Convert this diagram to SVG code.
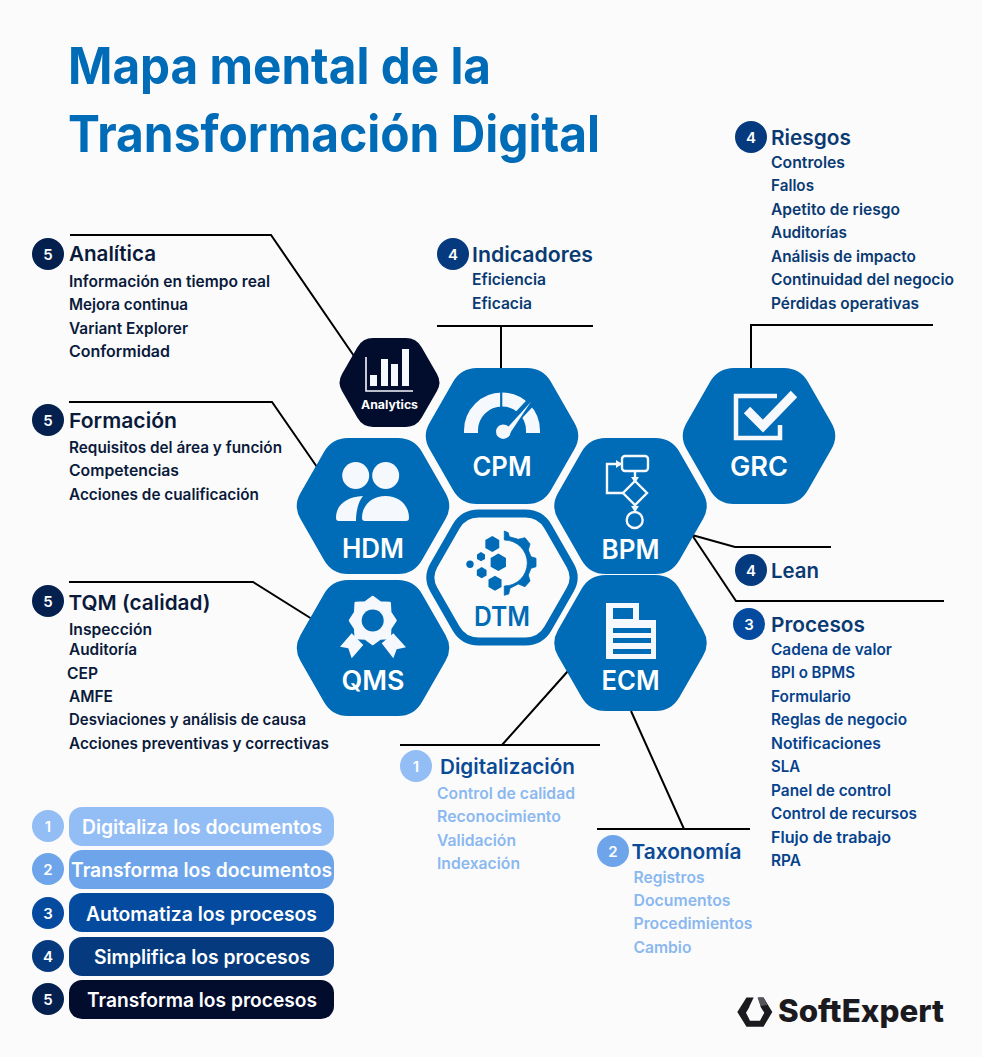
<svg xmlns="http://www.w3.org/2000/svg" width="982" height="1057" viewBox="0 0 982 1057">
<style>
text{font-family:"Inter","Liberation Sans",sans-serif}
.title{font-size:51px;font-weight:700;fill:#006bb6}
.h{font-size:20.5px;font-weight:600}
.i{font-size:15.5px;font-weight:600}
.n{font-size:15px;font-weight:600;fill:#fff;text-anchor:middle}
.d5{fill:#0a1a3a}.d4{fill:#0a3a72}.d3{fill:#06428c}.d2{fill:#0b4a96}.l{fill:#8ab8ef}
.hl{font-size:26.5px;font-weight:600;fill:#fff;text-anchor:middle}
.pt{font-size:19.5px;font-weight:600;fill:#fff;text-anchor:middle}
.ic{fill:#f5f8fd}
.is{fill:none;stroke:#f5f8fd}
.conn{fill:none;stroke:#000;stroke-width:2}
.blue{fill:#006bb6}
</style>
<defs>
<path id="hex" d="M-72.5,-13 L-49,-54 Q-41,-68 -25,-68 L25,-68 Q41,-68 49,-54 L72.5,-13 Q80,0 72.5,13 L49,54 Q41,68 25,68 L-25,68 Q-41,68 -49,54 L-72.5,13 Q-80,0 -72.5,-13Z"/>
<polygon id="phex" points="0,-1 .87,-.5 .87,.5 0,1 -.87,.5 -.87,-.5"/>
</defs>
<rect width="982" height="1057" fill="#fbfbfc"/>

<g id="title">
<text class="title" x="68" y="84" textLength="423" lengthAdjust="spacingAndGlyphs">Mapa mental de la</text>
<text class="title" x="68" y="152" textLength="532" lengthAdjust="spacingAndGlyphs">Transformación Digital</text>
</g>

<g id="connectors" class="conn">
<path d="M70,235H271L354,356"/>
<path d="M437,326H593M501,326V368"/>
<path d="M751,368V325H933"/>
<path d="M69,402H272L317,467"/>
<path d="M69,582H253L312,619"/>
<path d="M692,535L735,547H831M692,535L736,601H944"/>
<path d="M400,745H600M502,745L568,671"/>
<path d="M597,829H750M684,829L631,711"/>
</g>

<g id="node-grc">
<use href="#hex" transform="translate(759,436)" class="blue"/>
<path class="is" stroke-width="4.5" d="M777,396H736V438H780V425"/>
<path fill="none" stroke="#006bb6" stroke-width="14" d="M747,410L763,426L794,394"/>
<path class="is" stroke-width="9" d="M747,410L763,426L794,394"/>
<text class="hl" x="759" y="476" textLength="58" lengthAdjust="spacingAndGlyphs">GRC</text>
</g>
<g id="node-cpm">
<use href="#hex" transform="translate(502,436)" class="blue"/>
<path class="is" stroke-width="14" d="M471,433V430.5A31,31 0 0 1 533,430.5V433"/>
<path stroke="#006bb6" stroke-width="2.2" d="M501.2,390V415"/>
<path stroke="#006bb6" stroke-width="9" d="M503,432L532,401"/>
<path class="ic" d="M531,401.7L508.3,426.7L510,433.3Z"/>
<circle class="ic" cx="503.3" cy="431.7" r="7.3"/>
<text class="hl" x="502" y="476" textLength="59" lengthAdjust="spacingAndGlyphs">CPM</text>
</g>
<g id="node-analytics">
<use href="#hex" transform="translate(389.5,382.5) scale(.655)" fill="#020d2e"/>
<path class="is" stroke-width="1.6" d="M366,357V391H413"/>
<g class="ic"><rect x="370" y="375" width="7" height="11"/><rect x="381" y="359" width="7" height="27"/><rect x="391" y="364" width="7" height="22"/><rect x="402" y="349" width="7" height="37"/></g>
<text x="389.5" y="409" font-size="11.5" font-weight="700" fill="#fff" text-anchor="middle" textLength="57" lengthAdjust="spacingAndGlyphs">Analytics</text>
</g>
<g id="node-hdm">
<use href="#hex" transform="translate(373,506)" class="blue"/>
<g class="ic"><circle cx="355.7" cy="475.5" r="13.5"/><circle cx="385.7" cy="475.5" r="13.5"/>
<path d="M362,518C362,505 372,496 385.5,496C399,496 409,505 409,518Q409,521 406,521L365,521Q362,521 362,518Z"/>
<path d="M336,518C336,505 346,497 363,496C358,502 356,512 356,521L339,521Q336,521 336,518Z"/></g>
<text class="hl" x="373" y="558" textLength="62" lengthAdjust="spacingAndGlyphs">HDM</text>
</g>
<g id="node-bpm">
<use href="#hex" transform="translate(630.5,506)" class="blue"/>
<g class="is" stroke-width="2.4">
<rect x="622" y="456" width="26" height="15" rx="3"/>
<path d="M635,481L647,493L635,505L623,493Z"/>
<circle cx="634.7" cy="520" r="8"/>
<path d="M635,471V481M635,505V512M623,493H607V464H621"/>
</g>
<path class="ic" d="M622,464L616,460V468ZM635,483L631,477H639ZM635,512L631,506H639Z"/>
<text class="hl" x="630.5" y="559" textLength="58" lengthAdjust="spacingAndGlyphs">BPM</text>
</g>
<g id="node-qms">
<use href="#hex" transform="translate(373,648)" class="blue"/>
<polygon class="ic" stroke="#f5f8fd" stroke-width="2.5" stroke-linejoin="round" points="372.7,597 380.2,602.5 389.7,603 390.2,612.5 395.5,620.5 390.2,628.5 389.7,638 380.2,638.5 372.7,644 365.2,638.5 355.7,638 355.2,628.5 350,620.5 355.2,612.5 355.7,603 365.2,602.5"/>
<circle class="blue" cx="372.7" cy="620.5" r="11"/>
<polygon class="ic" points="351.7,633.3 363.3,645 351.7,658.3 348.3,648.3 340,646.7"/>
<polygon class="ic" points="393.3,633.3 381.7,643.3 393.3,658.3 396.7,649.3 406,647.3"/>
<text class="hl" x="373" y="690" textLength="63" lengthAdjust="spacingAndGlyphs">QMS</text>
</g>
<g id="node-dtm">
<use href="#hex" transform="translate(502,577.5) scale(.94)" fill="#fbfbfc" stroke="#006bb6" stroke-width="8.5"/>
<g class="blue">
<use href="#phex" transform="translate(492.3,544) scale(8)"/>
<use href="#phex" transform="translate(498.3,562.3) scale(8.8)"/>
<use href="#phex" transform="translate(495,583.3) scale(7.5)"/>
<use href="#phex" transform="translate(481.7,572.7) scale(5.6)"/>
<use href="#phex" transform="translate(481,556.7) scale(4.6)"/>
<circle cx="470" cy="564.3" r="3.7"/>
<path stroke="#006bb6" stroke-width=".8" stroke-linejoin="round" d="M504.3,531L508.3,532.7L509.3,536.7L518.3,539.3L525,537.7L530,544L528.3,550L531,556.7L536,558.3V566.7L531,568.3L528.3,575L530,581L525,586.7L518.3,584L510,588.3L508.7,594L504.3,595.3V586A23,23 0 0 0 504.3,540Z"/>
</g>
<text x="502" y="626" font-size="26.5" font-weight="600" fill="#006bb6" text-anchor="middle" textLength="56" lengthAdjust="spacingAndGlyphs">DTM</text>
</g>
<g id="node-ecm">
<use href="#hex" transform="translate(630.5,643)" class="blue"/>
<path class="ic" d="M606,603H639V620H656V659H606Z"/>
<g class="blue"><rect x="613" y="608" width="20" height="11"/><rect x="613" y="628" width="38" height="5"/><rect x="613" y="638" width="38" height="5"/><rect x="613" y="649" width="38" height="5"/></g>
<text class="hl" x="630.5" y="690" textLength="58" lengthAdjust="spacingAndGlyphs">ECM</text>
</g>

<g id="riesgos">
<circle cx="751" cy="137" r="16" fill="#053b7e"/><text class="n" x="751" y="143">4</text>
<text class="h d4" x="771" y="145" textLength="80" lengthAdjust="spacingAndGlyphs">Riesgos</text>
<g class="i d4">
<text x="771" y="168" textLength="74" lengthAdjust="spacingAndGlyphs">Controles</text>
<text x="771" y="191" textLength="43" lengthAdjust="spacingAndGlyphs">Fallos</text>
<text x="771" y="215" textLength="129" lengthAdjust="spacingAndGlyphs">Apetito de riesgo</text>
<text x="771" y="238" textLength="76" lengthAdjust="spacingAndGlyphs">Auditorías</text>
<text x="771" y="262" textLength="145" lengthAdjust="spacingAndGlyphs">Análisis de impacto</text>
<text x="771" y="285" textLength="183" lengthAdjust="spacingAndGlyphs">Continuidad del negocio</text>
<text x="771" y="309" textLength="148" lengthAdjust="spacingAndGlyphs">Pérdidas operativas</text>
</g></g>
<g id="indicadores">
<circle cx="453" cy="254" r="16" fill="#053b7e"/><text class="n" x="453" y="260">4</text>
<text class="h d4" x="472" y="262" textLength="121" lengthAdjust="spacingAndGlyphs">Indicadores</text>
<g class="i d4">
<text x="472" y="285" textLength="74" lengthAdjust="spacingAndGlyphs">Eficiencia</text>
<text x="472" y="309" textLength="60" lengthAdjust="spacingAndGlyphs">Eficacia</text>
</g></g>
<g id="analitica">
<circle cx="48" cy="254" r="16" fill="#04204f"/><text class="n" x="48" y="260">5</text>
<text class="h d5" x="69" y="261" textLength="87" lengthAdjust="spacingAndGlyphs">Analítica</text>
<g class="i d5">
<text x="69" y="287" textLength="201" lengthAdjust="spacingAndGlyphs">Información en tiempo real</text>
<text x="69" y="310" textLength="119" lengthAdjust="spacingAndGlyphs">Mejora continua</text>
<text x="69" y="334" textLength="119" lengthAdjust="spacingAndGlyphs">Variant Explorer</text>
<text x="69" y="357" textLength="101" lengthAdjust="spacingAndGlyphs">Conformidad</text>
</g></g>
<g id="formacion">
<circle cx="48" cy="420" r="16" fill="#04204f"/><text class="n" x="48" y="426">5</text>
<text class="h d5" x="69" y="428" textLength="108" lengthAdjust="spacingAndGlyphs">Formación</text>
<g class="i d5">
<text x="69" y="453" textLength="213" lengthAdjust="spacingAndGlyphs">Requisitos del área y función</text>
<text x="69" y="476" textLength="110" lengthAdjust="spacingAndGlyphs">Competencias</text>
<text x="69" y="500" textLength="190" lengthAdjust="spacingAndGlyphs">Acciones de cualificación</text>
</g></g>
<g id="tqm">
<circle cx="48" cy="601" r="16" fill="#04204f"/><text class="n" x="48" y="607">5</text>
<text class="h d5" x="68.5" y="610" textLength="142" lengthAdjust="spacingAndGlyphs">TQM (calidad)</text>
<g class="i d5">
<text x="69" y="635" textLength="83" lengthAdjust="spacingAndGlyphs">Inspección</text>
<text x="69" y="655" textLength="68" lengthAdjust="spacingAndGlyphs">Auditoría</text>
<text x="67" y="679" textLength="31" lengthAdjust="spacingAndGlyphs">CEP</text>
<text x="69" y="702" textLength="44" lengthAdjust="spacingAndGlyphs">AMFE</text>
<text x="69" y="725" textLength="237" lengthAdjust="spacingAndGlyphs">Desviaciones y análisis de causa</text>
<text x="69" y="749" textLength="260" lengthAdjust="spacingAndGlyphs">Acciones preventivas y correctivas</text>
</g></g>
<g id="lean">
<circle cx="751" cy="570" r="16" fill="#053b7e"/><text class="n" x="751" y="576">4</text>
<text class="h d4" x="771" y="578" textLength="48" lengthAdjust="spacingAndGlyphs">Lean</text>
</g>
<g id="procesos">
<circle cx="749" cy="624" r="16" fill="#044ba0"/><text class="n" x="749" y="630">3</text>
<text class="h d4" x="771" y="632" textLength="94" lengthAdjust="spacingAndGlyphs">Procesos</text>
<g class="i d3">
<text x="771" y="655" textLength="121" lengthAdjust="spacingAndGlyphs">Cadena de valor</text>
<text x="771" y="678" textLength="84" lengthAdjust="spacingAndGlyphs">BPI o BPMS</text>
<text x="771" y="702" textLength="80" lengthAdjust="spacingAndGlyphs">Formulario</text>
<text x="771" y="725" textLength="136" lengthAdjust="spacingAndGlyphs">Reglas de negocio</text>
<text x="771" y="749" textLength="110" lengthAdjust="spacingAndGlyphs">Notificaciones</text>
<text x="771" y="772" textLength="29" lengthAdjust="spacingAndGlyphs">SLA</text>
<text x="771" y="796" textLength="120" lengthAdjust="spacingAndGlyphs">Panel de control</text>
<text x="771" y="819" textLength="146" lengthAdjust="spacingAndGlyphs">Control de recursos</text>
<text x="771" y="843" textLength="120" lengthAdjust="spacingAndGlyphs">Flujo de trabajo</text>
<text x="771" y="866" textLength="30" lengthAdjust="spacingAndGlyphs">RPA</text>
</g></g>
<g id="digitalizacion">
<circle cx="416" cy="766" r="16" fill="#93bdf5"/><text class="n" x="416" y="772">1</text>
<text class="h d2" x="440" y="774" textLength="135" lengthAdjust="spacingAndGlyphs">Digitalización</text>
<g class="i l">
<text x="437" y="799" textLength="138" lengthAdjust="spacingAndGlyphs">Control de calidad</text>
<text x="437" y="822" textLength="124" lengthAdjust="spacingAndGlyphs">Reconocimiento</text>
<text x="437" y="846" textLength="79" lengthAdjust="spacingAndGlyphs">Validación</text>
<text x="437" y="869" textLength="83" lengthAdjust="spacingAndGlyphs">Indexación</text>
</g></g>
<g id="taxonomia">
<circle cx="613" cy="851" r="16" fill="#6ea5ea"/><text class="n" x="613" y="857">2</text>
<text class="h d2" x="631.5" y="859" textLength="110" lengthAdjust="spacingAndGlyphs">Taxonomía</text>
<g class="i l">
<text x="633.5" y="883" textLength="71" lengthAdjust="spacingAndGlyphs">Registros</text>
<text x="633.5" y="906" textLength="97" lengthAdjust="spacingAndGlyphs">Documentos</text>
<text x="633.5" y="929" textLength="119" lengthAdjust="spacingAndGlyphs">Procedimientos</text>
<text x="633.5" y="953" textLength="58" lengthAdjust="spacingAndGlyphs">Cambio</text>
</g></g>

<g id="legend-1"><circle cx="48" cy="826" r="16" fill="#93bdf5"/><text class="n" x="48" y="832">1</text>
<rect x="69" y="807" width="265" height="39" rx="13" fill="#93bdf5"/><text class="pt" x="202" y="834" textLength="240" lengthAdjust="spacingAndGlyphs">Digitaliza los documentos</text></g>
<g id="legend-2"><circle cx="48" cy="869" r="16" fill="#6ea5ea"/><text class="n" x="48" y="875">2</text>
<rect x="69" y="850" width="265" height="39" rx="13" fill="#6ea5ea"/><text class="pt" x="201.5" y="877" textLength="261" lengthAdjust="spacingAndGlyphs">Transforma los documentos</text></g>
<g id="legend-3"><circle cx="48" cy="913" r="16" fill="#044ba0"/><text class="n" x="48" y="919">3</text>
<rect x="69" y="893" width="265" height="39" rx="13" fill="#044ba0"/><text class="pt" x="201.5" y="921" textLength="231" lengthAdjust="spacingAndGlyphs">Automatiza los procesos</text></g>
<g id="legend-4"><circle cx="48" cy="956" r="16" fill="#053b7e"/><text class="n" x="48" y="962">4</text>
<rect x="69" y="937" width="265" height="39" rx="13" fill="#053b7e"/><text class="pt" x="202" y="964" textLength="216" lengthAdjust="spacingAndGlyphs">Simplifica los procesos</text></g>
<g id="legend-5"><circle cx="48" cy="999" r="16" fill="#04204f"/><text class="n" x="48" y="1005">5</text>
<rect x="69" y="980" width="265" height="39" rx="13" fill="#020d2e"/><text class="pt" x="202" y="1007" textLength="230" lengthAdjust="spacingAndGlyphs">Transforma los procesos</text></g>

<g id="logo">
<path fill="#1a1a1f" fill-rule="evenodd" d="M737.3,1012L746.5,997.5H763.5L772.3,1012L763.5,1026.7H746.5ZM746,1012.7L750,1006H760L764.3,1012.7L760,1020.7H750Z"/>
<polygon points="754,996.7 758,996.7 760.7,1006.5 749.3,1006.7" fill="#fbfbfc"/>
<polygon points="757.5,997.5 763.5,997.5 767.5,1005 760.5,1006" fill="#55565c"/>
<text x="778" y="1022" font-size="31" font-weight="800" fill="#1a1a1f" textLength="166" lengthAdjust="spacingAndGlyphs">SoftExpert</text>
</g>
</svg>
